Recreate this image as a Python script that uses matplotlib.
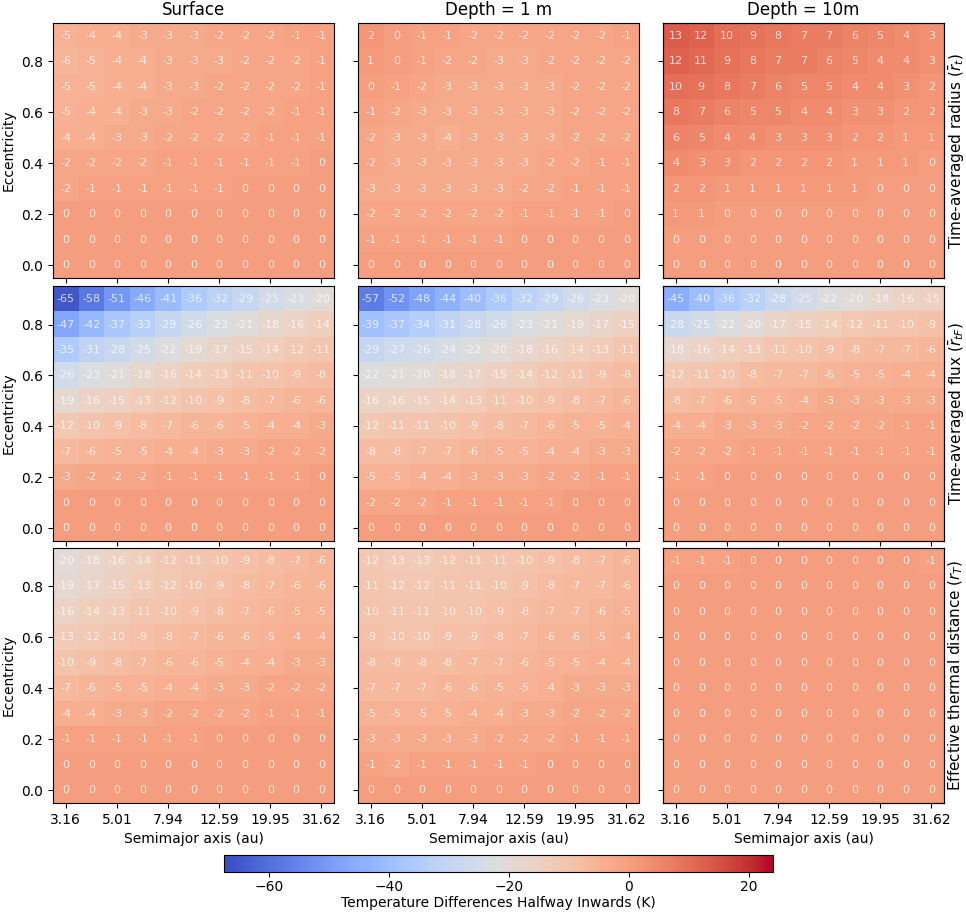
import numpy as np
import matplotlib
matplotlib.use('Agg')
import matplotlib.pyplot as plt

# semimajor axis (au), log spaced, and eccentricity
semimajor = [3.16, 3.98, 5.01, 6.31, 7.94, 10.00, 12.59, 15.85, 19.95, 25.12, 31.62]
ecc = [0.9, 0.8, 0.7, 0.6, 0.5, 0.4, 0.3, 0.2, 0.1, 0.0]   # rows top -> bottom

cols = ['Surface', 'Depth = 1 m', 'Depth = 10m']
rows = [r'Time-averaged radius ($\bar{r}_t$)',
        r'Time-averaged flux ($\bar{r}_{tF}$)',
        r'Effective thermal distance ($r_T$)']

Z = [0] * 11

surf_radius = [
    [-5, -4, -4, -3, -3, -3, -2, -2, -2, -1, -1],
    [-6, -5, -4, -4, -3, -3, -3, -2, -2, -2, -1],
    [-5, -5, -4, -4, -3, -3, -2, -2, -2, -2, -1],
    [-5, -4, -4, -3, -3, -2, -2, -2, -2, -1, -1],
    [-4, -4, -3, -3, -2, -2, -2, -2, -1, -1, -1],
    [-2, -2, -2, -2, -1, -1, -1, -1, -1, -1, 0],
    [-2, -1, -1, -1, -1, -1, -1, 0, 0, 0, 0],
    Z, Z, Z]

d1_radius = [
    [2, 0, -1, -1, -2, -2, -2, -2, -2, -2, -1],
    [1, 0, -1, -2, -2, -3, -3, -2, -2, -2, -2],
    [0, -1, -2, -3, -3, -3, -3, -3, -2, -2, -2],
    [-1, -2, -3, -3, -3, -3, -3, -3, -2, -2, -2],
    [-2, -3, -3, -4, -3, -3, -3, -3, -2, -2, -2],
    [-2, -3, -3, -3, -3, -3, -3, -2, -2, -1, -1],
    [-3, -3, -3, -3, -3, -3, -2, -2, -1, -1, -1],
    [-2, -2, -2, -2, -2, -2, -1, -1, -1, -1, 0],
    [-1, -1, -1, -1, -1, -1, 0, 0, 0, 0, 0],
    Z]

d10_radius = [
    [13, 12, 10, 9, 8, 7, 7, 6, 5, 4, 3],
    [12, 11, 9, 8, 7, 7, 6, 5, 4, 4, 3],
    [10, 9, 8, 7, 6, 5, 5, 4, 4, 3, 2],
    [8, 7, 6, 5, 5, 4, 4, 3, 3, 2, 2],
    [6, 5, 4, 4, 3, 3, 3, 2, 2, 1, 1],
    [4, 3, 3, 2, 2, 2, 2, 1, 1, 1, 0],
    [2, 2, 1, 1, 1, 1, 1, 1, 0, 0, 0],
    [1, 1, 0, 0, 0, 0, 0, 0, 0, 0, 0],
    Z, Z]

surf_flux = [
    [-65, -58, -51, -46, -41, -36, -32, -29, -25, -23, -20],
    [-47, -42, -37, -33, -29, -26, -23, -21, -18, -16, -14],
    [-35, -31, -28, -25, -22, -19, -17, -15, -14, -12, -11],
    [-26, -23, -21, -18, -16, -14, -13, -11, -10, -9, -8],
    [-19, -16, -15, -13, -12, -10, -9, -8, -7, -6, -6],
    [-12, -10, -9, -8, -7, -6, -6, -5, -4, -4, -3],
    [-7, -6, -5, -5, -4, -4, -3, -3, -2, -2, -2],
    [-3, -2, -2, -2, -1, -1, -1, -1, -1, -1, 0],
    Z, Z]

d1_flux = [
    [-57, -52, -48, -44, -40, -36, -32, -29, -26, -23, -20],
    [-39, -37, -34, -31, -28, -26, -23, -21, -19, -17, -15],
    [-29, -27, -26, -24, -22, -20, -18, -16, -14, -13, -11],
    [-22, -21, -20, -18, -17, -15, -14, -12, -11, -9, -8],
    [-16, -16, -15, -14, -13, -11, -10, -9, -8, -7, -6],
    [-12, -11, -11, -10, -9, -8, -7, -6, -5, -5, -4],
    [-8, -8, -7, -7, -6, -5, -5, -4, -4, -3, -3],
    [-5, -5, -4, -4, -3, -3, -3, -2, -2, -1, -1],
    [-2, -2, -2, -1, -1, -1, -1, -1, 0, 0, 0],
    Z]

d10_flux = [
    [-45, -40, -36, -32, -28, -25, -22, -20, -18, -16, -15],
    [-28, -25, -22, -20, -17, -15, -14, -12, -11, -10, -9],
    [-18, -16, -14, -13, -11, -10, -9, -8, -7, -7, -6],
    [-12, -11, -10, -8, -7, -7, -6, -5, -5, -4, -4],
    [-8, -7, -6, -5, -5, -4, -3, -3, -3, -3, -3],
    [-4, -4, -3, -3, -3, -2, -2, -2, -2, -1, -1],
    [-2, -2, -2, -1, -1, -1, -1, -1, -1, -1, -1],
    [-1, -1, 0, 0, 0, 0, 0, 0, 0, 0, 0],
    Z, Z]

surf_thermal = [
    [-20, -18, -16, -14, -12, -11, -10, -9, -8, -7, -6],
    [-19, -17, -15, -13, -12, -10, -9, -8, -7, -6, -6],
    [-16, -14, -13, -11, -10, -9, -8, -7, -6, -5, -5],
    [-13, -12, -10, -9, -8, -7, -6, -6, -5, -4, -4],
    [-10, -9, -8, -7, -6, -6, -5, -4, -4, -3, -3],
    [-7, -6, -5, -5, -4, -4, -3, -3, -2, -2, -2],
    [-4, -4, -3, -3, -2, -2, -2, -2, -1, -1, -1],
    [-1, -1, -1, -1, -1, -1, 0, 0, 0, 0, 0],
    Z, Z]

d1_thermal = [
    [-12, -13, -13, -12, -11, -11, -10, -9, -8, -7, -6],
    [-11, -12, -12, -11, -11, -10, -9, -8, -7, -7, -6],
    [-10, -11, -11, -10, -10, -9, -8, -7, -7, -6, -5],
    [-9, -10, -10, -9, -9, -8, -7, -6, -6, -5, -4],
    [-8, -8, -8, -8, -7, -7, -6, -5, -5, -4, -4],
    [-7, -7, -7, -6, -6, -5, -5, -4, -3, -3, -3],
    [-5, -5, -5, -5, -4, -4, -3, -3, -2, -2, -2],
    [-3, -3, -3, -3, -3, -2, -2, -2, -1, -1, -1],
    [-1, -2, -1, -1, -1, -1, -1, 0, 0, 0, 0],
    Z]

d10_thermal = [
    [-1, -1, -1, 0, 0, 0, 0, 0, 0, 0, -1],
    Z, Z, Z, Z, Z, Z, Z, Z, Z]

grids = [[surf_radius, d1_radius, d10_radius],
         [surf_flux, d1_flux, d10_flux],
         [surf_thermal, d1_thermal, d10_thermal]]

vmin, vmax = -67.5, 24

fig = plt.figure(figsize=(9.66, 9.13), dpi=100)

lefts = [0.0549, 0.3706, 0.6863]
bottoms = [0.6955, 0.4074, 0.1205]
w, h = 0.291, 0.279

xt = list(range(0, 11, 2))
yt = [9, 7, 5, 3, 1]

for i in range(3):
    for j in range(3):
        ax = fig.add_axes([lefts[j], bottoms[i], w, h])
        data = np.array(grids[i][j])
        im = ax.imshow(data, cmap='coolwarm', vmin=vmin, vmax=vmax, aspect='auto')
        for r in range(data.shape[0]):
            for c in range(data.shape[1]):
                ax.text(c, r, str(data[r, c]), ha='center', va='center',
                        color='white', alpha=0.75, fontsize=8)
        ax.set_xticks(xt)
        ax.set_yticks(yt)
        if i == 2:
            ax.set_xticklabels(['%.2f' % semimajor[k] for k in xt])
            ax.set_xlabel('Semimajor axis (au)')
        else:
            ax.set_xticklabels([])
        if j == 0:
            ax.set_yticklabels(['%.1f' % ecc[k] for k in yt])
            ax.set_ylabel('Eccentricity')
        else:
            ax.set_yticklabels([])
        if i == 0:
            ax.set_title(cols[j], fontsize=12)
        if j == 2:
            ax2 = ax.twinx()
            ax2.set_yticks([])
            ax2.set_ylabel(rows[i], fontsize=11, labelpad=2)

cax = fig.add_axes([0.232, 0.045, 0.568, 0.019])
cb = fig.colorbar(im, cax=cax, orientation='horizontal')
cb.ax.tick_params(pad=2)
cb.set_label('Temperature Differences Halfway Inwards (K)', labelpad=2)

plt.savefig('out.png', dpi=100)
